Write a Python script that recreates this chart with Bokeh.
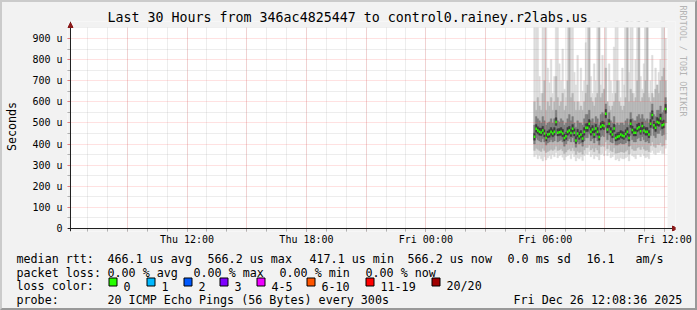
import pandas as pd
from bokeh.plotting import figure
from bokeh.layouts import column
from bokeh.models import (Range1d, FixedTicker, Title, ColumnDataSource, BoxAnnotation, Span,
                          Arrow, NormalHead)
from bokeh.core.properties import value
from bokeh.embed import file_html
from bokeh.resources import INLINE

# ---------------- data ----------------
title_text = "Last 30 Hours from 346ac4825447 to control0.rainey.r2labs.us"
range_start = "2025-12-25 06:08:36"
range_end = "2025-12-26 12:08:36"
first_step = "2025-12-26 05:25:00"
y_top = 952

# median rtt per 5-minute step (microseconds)
median = [434, 472, 464, 458, 455, 464, 450, 429, 445, 448, 458, 450, 458, 505, 453, 456, 458, 450, 429, 437,
          458, 464, 452, 472, 453, 417, 450, 437, 445, 426, 458, 477, 477, 496, 458, 469, 445, 474, 458, 433,
          482, 489, 485, 543, 469, 496, 458, 445, 474, 429, 434, 437, 445, 441, 437, 448, 458, 429, 496, 466,
          453, 453, 474, 480, 461, 485, 464, 458, 458, 445, 496, 537, 489, 477, 505, 501, 521, 489, 493, 566]
# smoke envelopes (microseconds), outermost to innermost
ping_max = [1500, 1300, 1200, 720, 640, 1400, 1100, 1250, 760, 690, 800, 640, 720, 1300, 1150, 780, 700, 850, 660, 620,
            1200, 1400, 1100, 1300, 740, 680, 820, 600, 760, 650, 700, 880, 1200, 1350, 720, 640, 780, 700, 1300, 1100,
            680, 820, 660, 1250, 600, 780, 700, 640, 860, 1400, 1200, 700, 620, 760, 680, 1300, 1150, 740, 1200, 1350,
            640, 800, 1250, 1100, 720, 660, 780, 1300, 1200, 640, 700, 820, 600, 760, 680, 740, 800, 1350, 1200, 900]
ping_hi2 = [600, 560, 620, 580, 560, 640, 700, 560, 600, 580, 620, 560, 600, 720, 620, 580, 600, 640, 560, 580,
            700, 1100, 620, 640, 600, 560, 600, 560, 580, 560, 600, 640, 680, 1100, 620, 600, 580, 620, 640, 1100,
            620, 640, 660, 760, 600, 580, 560, 580, 600, 640, 700, 600, 580, 560, 580, 620, 1100, 600, 660, 640,
            600, 620, 700, 1100, 600, 620, 640, 700, 1100, 620, 600, 640, 620, 660, 680, 640, 700, 720, 760, 700]
ping_hi1 = [490, 530, 520, 510, 500, 530, 510, 490, 500, 505, 520, 500, 520, 560, 510, 505, 520, 510, 490, 500,
            520, 540, 510, 530, 500, 480, 510, 500, 500, 490, 520, 540, 540, 560, 510, 520, 500, 530, 520, 490,
            540, 550, 540, 590, 520, 550, 510, 500, 530, 490, 500, 490, 500, 500, 490, 510, 520, 490, 550, 520,
            510, 510, 530, 540, 520, 540, 520, 510, 520, 500, 550, 590, 540, 530, 560, 560, 580, 550, 560, 620]
ping_hi0 = [452, 492, 482, 476, 475, 484, 468, 448, 462, 468, 478, 468, 478, 525, 472, 474, 478, 470, 448, 456,
            478, 484, 470, 492, 472, 436, 470, 456, 464, 446, 478, 496, 498, 516, 478, 488, 464, 494, 478, 452,
            502, 508, 504, 564, 488, 516, 478, 464, 494, 448, 454, 456, 464, 460, 456, 468, 478, 448, 516, 486,
            472, 472, 494, 500, 480, 504, 484, 478, 478, 464, 516, 558, 508, 496, 526, 520, 542, 508, 514, 588]
ping_lo0 = [418, 456, 448, 442, 440, 448, 434, 414, 430, 432, 442, 434, 442, 488, 438, 440, 442, 434, 414, 422,
            442, 448, 436, 456, 438, 402, 434, 422, 430, 410, 442, 460, 460, 478, 442, 452, 430, 458, 442, 418,
            466, 472, 468, 524, 452, 478, 442, 430, 458, 414, 418, 422, 430, 426, 422, 432, 442, 414, 478, 450,
            438, 438, 458, 464, 446, 468, 448, 442, 442, 430, 478, 518, 472, 460, 488, 484, 502, 472, 476, 546]
ping_lo1 = [400, 430, 420, 415, 410, 425, 410, 395, 405, 410, 420, 410, 415, 450, 410, 415, 420, 410, 390, 400,
            415, 425, 410, 430, 410, 385, 410, 400, 405, 390, 415, 430, 430, 450, 415, 425, 405, 430, 415, 395,
            435, 440, 435, 480, 420, 445, 410, 405, 430, 395, 395, 400, 405, 400, 400, 405, 415, 390, 440, 420,
            410, 410, 425, 430, 415, 435, 420, 410, 415, 405, 440, 475, 440, 430, 450, 450, 465, 440, 445, 500]
ping_lo2 = [370, 380, 375, 370, 365, 380, 370, 360, 365, 370, 375, 370, 375, 390, 370, 372, 378, 368, 355, 362,
            372, 378, 368, 382, 368, 350, 366, 360, 364, 352, 372, 384, 384, 395, 372, 380, 364, 382, 372, 356,
            388, 392, 388, 410, 378, 395, 370, 364, 382, 356, 358, 360, 364, 362, 360, 366, 372, 352, 392, 376,
            370, 370, 382, 386, 374, 388, 376, 370, 372, 364, 392, 410, 390, 384, 398, 396, 406, 390, 394, 420]
ping_min = [340, 350, 330, 345, 330, 320, 340, 325, 335, 345, 330, 350, 340, 360, 335, 345, 350, 338, 325, 340,
            345, 350, 330, 355, 340, 320, 335, 330, 340, 322, 345, 355, 350, 365, 340, 350, 330, 345, 340, 325,
            350, 355, 345, 370, 345, 360, 335, 340, 350, 325, 330, 320, 335, 330, 330, 335, 340, 320, 355, 345,
            340, 330, 350, 350, 340, 355, 345, 335, 340, 330, 360, 370, 355, 350, 360, 360, 370, 355, 355, 380]

x_tick_times = ["2025-12-25 12:00", "2025-12-25 18:00", "2025-12-26 00:00", "2025-12-26 06:00", "2025-12-26 12:00"]
x_tick_labels = ["Thu 12:00", "Thu 18:00", "Fri 00:00", "Fri 06:00", "Fri 12:00"]
y_ticks = [0, 100, 200, 300, 400, 500, 600, 700, 800, 900]
y_tick_labels = ["0", "100 u", "200 u", "300 u", "400 u", "500 u", "600 u", "700 u", "800 u", "900 u"]
y_minor = [50, 150, 250, 350, 450, 550, 650, 750, 850, 950]

rtt_head = "median rtt:"
rtt_stats = ["466.1 us avg", "566.2 us max", "417.1 us min", "566.2 us now", "0.0 ms sd", "16.1", "am/s"]
loss_head = "packet loss:"
loss_stats = ["0.00 % avg", "0.00 % max", "0.00 % min", "0.00 % now"]
color_head = "loss color:"
loss_labels = ["0", "1", "2", "3", "4-5", "6-10", "11-19", "20/20"]
loss_colors = ["#26ff00", "#00b8ff", "#0059ff", "#7e00ff", "#ee00ff", "#ff5500", "#ff0000", "#a00000"]
probe_head = "probe:"
probe_text = "20 ICMP Echo Pings (56 Bytes) every 300s"
stamp_text = "Fri Dec 26 12:08:36 2025"
watermark = "RRDTOOL / TOBI OETIKER"

# ---------------- build ----------------
MONO = "DejaVu Sans Mono"
BG = "#f2f2f2"
AXC = "#202020"
ARC = "#8b1a1a"
step = pd.Timedelta(minutes=5)
times = pd.date_range(first_step, periods=len(median), freq="5min")
src = ColumnDataSource(dict(left=times, right=times + step, mid=times + step / 2,
                            med=median, mx=ping_max, h2=ping_hi2, h1=ping_hi1, h0=ping_hi0,
                            l0=ping_lo0, l1=ping_lo1, l2=ping_lo2, mn=ping_min))

def ms(t):
    return pd.Timestamp(t).timestamp() * 1000.0

W, H = 693, 306            # inside the 2px css border
H1 = 246                   # chart part
# graph area 600x201 px; the frame is a little larger so that axis arrows fit
PW, PH = 600, 201
ML, MB, MT, MR = 3, 3, 6, 8          # frame margins around the graph area (px)
FL, FT = 65 - ML, 25 - MT
FW, FH = PW + ML + MR, PH + MB + MT
t0, t1 = ms(range_start), ms(range_end)
xpp = (t1 - t0) / PW                 # ms per pixel
ypp = y_top / PH                     # units per pixel

p = figure(width=W, height=H1, x_axis_type="datetime",
           x_range=Range1d(t0 - ML * xpp, t1 + MR * xpp),
           y_range=Range1d(-MB * ypp, y_top + MT * ypp),
           min_border_left=FL, min_border_right=W - FL - FW,
           min_border_top=FT, min_border_bottom=H1 - FT - FH,
           output_backend="svg", toolbar_location=None, title=title_text,
           background_fill_color="white", border_fill_color=BG)
p.frame_align = False
p.outline_line_color = None
p.title.align = "left"
p.title.offset = 40
p.title.standoff = -MT
p.title.level = "overlay"
p.title.text_font = MONO
p.title.text_font_size = "13.3px"
p.title.text_font_style = "normal"
p.title.text_color = "black"

# smoke
for lo, hi, col in (("mn", "mx", "#dcdcdc"), ("l2", "h2", "#b6b6b6"),
                    ("l1", "h1", "#7c7c7c"), ("l0", "h0", "#3c3c3c")):
    p.quad(left="left", right="right", bottom=lo, top=hi, source=src,
           fill_color=col, line_color=col, line_width=0.4)
# median markers
p.rect(x="mid", y="med", width=300000, height=2.5, height_units="screen", source=src,
       fill_color=loss_colors[0], line_color=None)

# grids
hourly = [ms(t) for t in pd.date_range("2025-12-25 07:00", "2025-12-26 12:00", freq="1h")]
three_h = [ms(t) for t in pd.date_range("2025-12-25 09:00", "2025-12-26 12:00", freq="3h")]
p.xgrid.ticker = FixedTicker(ticks=three_h, minor_ticks=hourly)
p.ygrid.ticker = FixedTicker(ticks=y_ticks[1:], minor_ticks=y_minor)
for g in (p.xgrid[0], p.ygrid[0]):
    g.level = "annotation"
    g.grid_line_color = "#ff5050"
    g.grid_line_alpha = 0.35
    g.grid_line_dash = "1 1"
    g.minor_grid_line_color = "#909090"
    g.minor_grid_line_alpha = 0.32
    g.minor_grid_line_dash = "1 1"

# margins of the frame outside the graph area
for kw in (dict(right=t0), dict(left=t1), dict(top=0), dict(bottom=y_top)):
    p.add_layout(BoxAnnotation(fill_color=BG, fill_alpha=1.0, line_color=None, level="annotation", **kw))

# axes (ticks + labels from bokeh, axis lines as spans at the graph origin)
xt = [ms(t) for t in x_tick_times]
p.xaxis.ticker = FixedTicker(ticks=xt, minor_ticks=hourly)
p.xaxis.major_label_overrides = {k: v for k, v in zip(xt, x_tick_labels)}
p.yaxis.ticker = FixedTicker(ticks=y_ticks, minor_ticks=y_minor)
p.yaxis.major_label_overrides = {k: v for k, v in zip(y_ticks, y_tick_labels)}
for ax in (p.xaxis[0], p.yaxis[0]):
    ax.level = "overlay"
    ax.axis_line_color = None
    ax.major_label_text_font = MONO
    ax.major_label_text_font_size = "10px"
    ax.major_label_text_color = "black"
    ax.major_tick_in = 3
    ax.major_tick_out = 0
    ax.minor_tick_in = 3
    ax.minor_tick_out = 0
    ax.major_tick_line_color = "#e08080"
    ax.minor_tick_line_color = "#b0b0b0"
p.xaxis.major_label_standoff = 2
p.yaxis.major_label_standoff = 5
p.yaxis.axis_label = "Seconds"
p.yaxis.axis_label_text_font = MONO
p.yaxis.axis_label_text_font_size = "11.7px"
p.yaxis.axis_label_text_font_style = "normal"
p.yaxis.axis_label_text_color = "black"
p.yaxis.axis_label_standoff = 10

p.add_layout(Span(location=t0, dimension="height", line_color=AXC, line_width=1, level="overlay"))
p.add_layout(Span(location=0, dimension="width", line_color=AXC, line_width=1, level="overlay"))
p.add_layout(Arrow(end=NormalHead(size=5, fill_color=ARC, line_color=ARC),
                   x_start=ML, y_start=MB + PH - 8, x_end=ML, y_end=MB + PH + 5,
                   start_units="screen", end_units="screen", line_alpha=0, level="overlay"))
p.add_layout(Arrow(end=NormalHead(size=5, fill_color=ARC, line_color=ARC),
                   x_start=ML + PW - 8, y_start=MB, x_end=ML + PW + 7, y_end=MB,
                   start_units="screen", end_units="screen", line_alpha=0, level="overlay"))

# watermark on the right
p.add_layout(Title(text=watermark, align="left", offset=-22 + MT, standoff=4,
                   text_font=MONO, text_font_size="8.4px", text_font_style="normal",
                   text_color="#b4b4b4"), "right")

# ---------------- legend panel (pixel coordinates, y downward) ----------------
H2 = H - H1
OX, OY = 2, 2 + H1          # page offset of the legend panel
q = figure(width=W, height=H2, x_range=Range1d(0, W), y_range=Range1d(H2, 0),
           x_axis_location=None, y_axis_location=None, min_border=0,
           min_border_left=0, min_border_right=0, min_border_top=0, min_border_bottom=0,
           output_backend="svg", toolbar_location=None,
           background_fill_color=BG, border_fill_color=BG)
q.frame_align = False
q.grid.visible = False
q.outline_line_color = None

def txt(texts, xs, Y):
    q.text(x=[x - OX for x in xs], y=[Y - OY] * len(xs), text=texts,
           text_font=value(MONO), text_font_size="11.7px", text_color="black",
           text_baseline="alphabetic", text_align="left")

rtt_x = [107, 207, 309, 407, 507, 586, 635]
txt([rtt_head] + rtt_stats, [16] + rtt_x, 258)
loss_x = [107, 193, 279, 365]
txt([loss_head] + loss_stats, [16] + loss_x, 272)
sq_x = [108, 146, 183, 219, 256, 306, 365, 431]
txt([color_head] + loss_labels, [16] + [x + 15 for x in sq_x], 285.5)
q.quad(left=[x + 0.5 - OX for x in sq_x], right=[x + 8.5 - OX for x in sq_x],
       top=[277.5 - OY] * len(sq_x), bottom=[285.5 - OY] * len(sq_x),
       fill_color=loss_colors, line_color="black", line_width=1)
txt([probe_head, probe_text, stamp_text], [16, 107, 513], 299)

layout = column(p, q, spacing=0,
                styles={"border-top": "2px solid #cbcbcb", "border-left": "2px solid #cbcbcb",
                        "border-right": "2px solid #999999", "border-bottom": "2px solid #999999",
                        "background-color": BG})

open("out.html", "w").write(file_html(layout, INLINE))
